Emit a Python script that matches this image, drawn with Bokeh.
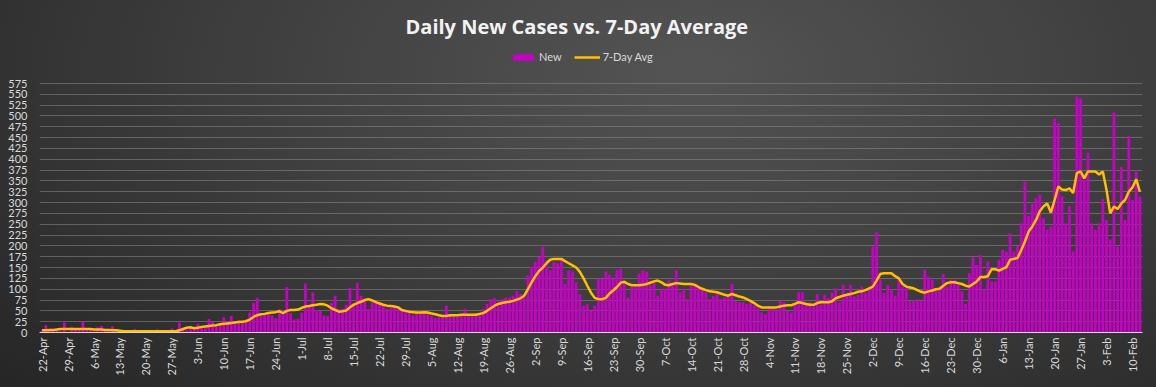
import math
from bokeh.plotting import figure
from bokeh.models import ColumnDataSource, Range1d, FixedTicker, Legend, LegendItem
from bokeh.embed import file_html
from bokeh.resources import INLINE

# ---- data ----
tick_labels = ["22-Apr", "29-Apr", "6-May", "13-May", "20-May", "27-May", "3-Jun", "10-Jun",
               "17-Jun", "24-Jun", "1-Jul", "8-Jul", "15-Jul", "22-Jul", "29-Jul", "5-Aug",
               "12-Aug", "19-Aug", "26-Aug", "2-Sep", "9-Sep", "16-Sep", "23-Sep", "30-Sep",
               "7-Oct", "14-Oct", "21-Oct", "28-Oct", "4-Nov", "11-Nov", "18-Nov", "25-Nov",
               "2-Dec", "9-Dec", "16-Dec", "23-Dec", "30-Dec", "6-Jan", "13-Jan", "20-Jan",
               "27-Jan", "3-Feb", "10-Feb"]

new_cases = [
    5, 17, 8, 4, 6, 3, 23, 2, 12, 10,
    8, 25, 5, 6, 3, 12, 15, 8, 5, 14,
    4, 6, 3, 2, 4, 8, 2, 5, 6, 3,
    4, 7, 2, 5, 3, 9, 4, 23, 8, 6,
    12, 8, 20, 14, 10, 31, 25, 18, 22, 35,
    25, 38, 20, 28, 22, 30, 46, 68, 80, 40,
    45, 45, 40, 33, 54, 46, 105, 45, 30, 32,
    46, 113, 60, 93, 52, 50, 40, 38, 68, 85,
    54, 55, 64, 103, 68, 115, 85, 77, 54, 70,
    72, 70, 62, 55, 56, 60, 60, 50, 48, 45,
    40, 45, 45, 48, 45, 38, 34, 35, 40, 62,
    40, 38, 36, 42, 55, 40, 38, 45, 42, 55,
    66, 77, 79, 71, 77, 80, 81, 85, 95, 89,
    81, 132, 152, 163, 175, 198, 167, 144, 163, 160,
    171, 112, 144, 140, 116, 89, 62, 66, 50, 62,
    124, 124, 141, 133, 124, 144, 148, 116, 81, 105,
    105, 136, 144, 140, 109, 116, 85, 101, 101, 120,
    109, 144, 93, 101, 77, 109, 109, 105, 101, 93,
    77, 85, 93, 77, 81, 85, 112, 73, 70, 70,
    66, 70, 62, 58, 46, 42, 55, 58, 50, 73,
    70, 50, 46, 66, 93, 93, 66, 70, 64, 89,
    64, 87, 79, 92, 102, 69, 110, 87, 110, 83,
    87, 106, 91, 102, 198, 231, 123, 91, 110, 100,
    85, 125, 106, 102, 72, 74, 77, 72, 145, 129,
    122, 102, 106, 135, 106, 122, 122, 114, 95, 66,
    137, 174, 156, 179, 100, 164, 118, 118, 168, 191,
    187, 229, 187, 200, 252, 348, 269, 297, 310, 319,
    264, 237, 245, 495, 483, 314, 252, 292, 187, 545,
    541, 352, 415, 252, 237, 252, 308, 260, 215, 508,
    198, 382, 260, 454, 306, 372, 314,
]

avg_7day = [
    5, 5, 6, 6, 7, 8, 8, 8, 8, 8,
    8, 8, 8, 8, 7, 7, 7, 6, 6, 5,
    5, 4, 3, 3, 3, 3, 3, 3, 3, 3,
    3, 3, 3, 3, 3, 3, 3, 5, 8, 11,
    12, 10, 11, 13, 14, 15, 16, 17, 19, 20,
    21, 22, 23, 24, 25, 26, 30, 36, 40, 42,
    43, 45, 46, 47, 49, 45, 50, 52, 52, 53,
    57, 60, 61, 63, 64, 66, 65, 62, 56, 52,
    48, 49, 51, 58, 64, 68, 71, 75, 77, 74,
    70, 67, 64, 62, 61, 60, 58, 52, 50, 48,
    47, 46, 46, 47, 46, 44, 42, 40, 38, 38,
    40, 40, 40, 41, 41, 41, 41, 41, 43, 45,
    50, 56, 62, 66, 68, 70, 71, 73, 76, 79,
    85, 100, 116, 130, 142, 150, 160, 168, 170, 170,
    170, 165, 160, 155, 150, 140, 125, 108, 92, 80,
    77, 77, 80, 90, 97, 105, 115, 117, 112, 109,
    109, 109, 110, 112, 115, 118, 120, 116, 110, 109,
    112, 114, 113, 112, 112, 112, 110, 105, 101, 98,
    95, 94, 93, 90, 87, 85, 89, 86, 83, 81,
    77, 73, 68, 62, 58, 58, 58, 58, 58, 60,
    62, 63, 63, 66, 70, 68, 66, 64, 64, 68,
    70, 70, 70, 72, 79, 82, 85, 87, 89, 91,
    94, 95, 98, 102, 106, 120, 135, 137, 137, 137,
    130, 125, 112, 106, 104, 102, 98, 94, 92, 95,
    97, 100, 101, 108, 114, 116, 116, 114, 112, 108,
    106, 112, 118, 128, 128, 130, 146, 146, 143, 147,
    151, 168, 170, 172, 190, 210, 233, 245, 260, 280,
    291, 298, 277, 306, 337, 330, 329, 333, 322, 368,
    372, 356, 372, 372, 372, 365, 372, 329, 275, 291,
    285, 298, 306, 325, 335, 354, 325,
]

y_ticks = list(range(0, 576, 25))

# ---- build ----
days = list(range(len(new_cases)))
src = ColumnDataSource(dict(day=days, new=new_cases, avg=avg_7day))

tick_pos = [i * 7 for i in range(len(tick_labels))]

W, H = 1156, 387
LEFT, RIGHT = 39, 14
TOP, BOTTOM = 50, 55          # frame top (legend lives in the frame's upper strip)
GRID_TOP = 83                 # pixel row of the 575 grid line
frame_h = H - TOP - BOTTOM
y_end = y_ticks[-1] * frame_h / (H - BOTTOM - GRID_TOP)

p = figure(width=W, height=H, output_backend="svg", toolbar_location=None,
           x_range=Range1d(-0.7, len(days) - 0.3), y_range=Range1d(0, y_end),
           min_border_left=LEFT, min_border_right=RIGHT, min_border_bottom=BOTTOM,
           min_border_top=TOP,
           background_fill_color=None, border_fill_color=None, outline_line_color=None,
           title="Daily New Cases vs. 7-Day Average")

p.styles = {"background": "radial-gradient(ellipse 80% 120% at 60% 18%, #545454 0%, #404040 45%, #262626 100%)"}

p.title.align = "left"
p.title.offset = 366
p.title.standoff = 21
p.title.text_font = "Open Sans"
p.title.text_font_style = "bold"
p.title.text_font_size = "20px"
p.title.text_color = "#F2F2F2"

bars = p.vbar(x="day", top="new", width=0.75, source=src,
              fill_color="#C800C8", line_color=None)
line = p.line(x="day", y="avg", source=src, line_color="#FFC000", line_width=2.5)

legend = Legend(items=[LegendItem(label="New", renderers=[bars]),
                       LegendItem(label="7-Day Avg", renderers=[line])],
                orientation="horizontal", location=(468, H - BOTTOM - 66),
                background_fill_alpha=0, border_line_alpha=0,
                label_text_color="#D9D9D9", label_text_font="Lato",
                label_text_font_size="11px", glyph_width=26, glyph_height=8,
                label_standoff=3, spacing=12, padding=3, margin=0,
                label_height=12)
p.add_layout(legend, "center")

p.yaxis.ticker = FixedTicker(ticks=y_ticks)
p.yaxis.axis_line_color = None
p.yaxis.major_tick_line_color = None
p.yaxis.major_tick_out = 0
p.yaxis.major_tick_in = 0
p.yaxis.minor_tick_line_color = None
p.yaxis.major_label_text_color = "#D9D9D9"
p.yaxis.major_label_text_font = "Lato"
p.yaxis.major_label_text_font_size = "11px"
p.yaxis.major_label_standoff = 12

p.xaxis.ticker = FixedTicker(ticks=tick_pos)
p.xaxis.major_label_overrides = {t: l for t, l in zip(tick_pos, tick_labels)}
p.xaxis.major_label_orientation = math.pi / 2
p.xaxis.axis_line_color = "#D9D9D9"
p.xaxis.axis_line_width = 1
p.xaxis.major_tick_line_color = None
p.xaxis.major_tick_out = 0
p.xaxis.major_tick_in = 0
p.xaxis.minor_tick_line_color = None
p.xaxis.major_label_text_color = "#D9D9D9"
p.xaxis.major_label_text_font = "Lato"
p.xaxis.major_label_text_font_size = "11px"
p.xaxis.major_label_standoff = 5

p.xgrid.grid_line_color = None
p.ygrid.grid_line_color = "#8a8a8a"
p.ygrid.grid_line_alpha = 0.55

open("out.html", "w").write(file_html(p, INLINE))
